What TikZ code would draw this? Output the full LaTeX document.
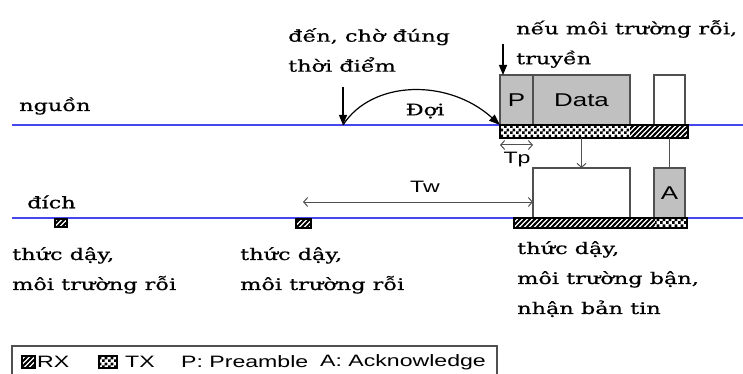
\documentclass[tikz,border=0pt]{standalone}
\usepackage{fontspec}
\setmainfont[FakeStretch=1.4,FakeBold=0.6]{DejaVu Serif}
\newfontfamily\labelsans[FakeStretch=1.4]{Liberation Sans}
\usetikzlibrary{arrows.meta,patterns}

% receive (RX) hatch and transmit (TX) checkerboard
\pgfdeclarepatternformonly{rxhatch}{\pgfqpoint{-1pt}{-1pt}}{\pgfqpoint{6pt}{6pt}}{\pgfqpoint{5pt}{5pt}}{%
  \pgfsetlinewidth{2pt}%
  \pgfpathmoveto{\pgfqpoint{-0.5pt}{-0.5pt}}\pgfpathlineto{\pgfqpoint{5.5pt}{5.5pt}}\pgfusepath{stroke}}
\pgfdeclarepatternformonly{txcheck}{\pgfpointorigin}{\pgfqpoint{6pt}{6pt}}{\pgfqpoint{6pt}{6pt}}{%
  \pgfpathrectangle{\pgfpointorigin}{\pgfqpoint{3pt}{3pt}}%
  \pgfpathrectangle{\pgfqpoint{3pt}{3pt}}{\pgfqpoint{3pt}{3pt}}\pgfusepath{fill}}

\definecolor{boxgray}{RGB}{192,192,192}
\definecolor{boxedge}{RGB}{80,80,80}
\definecolor{medium}{RGB}{70,70,240}

\tikzset{
  base/.style={inner sep=0pt, outer sep=0pt},
  graybox/.style={base, draw=boxedge, fill=boxgray, line width=1.2pt, anchor=north west,
    font=\labelsans\fontsize{18.5}{18.5}\selectfont},
  whitebox/.style={base, draw=boxedge, fill=white, line width=1.2pt, anchor=north west},
  barframe/.style={base, draw=black, line width=1.6pt, anchor=north west},
  rxfill/.style={pattern=rxhatch},
  txfill/.style={pattern=txcheck},
  wakemark/.style={base, draw=black, line width=1.3pt, pattern=rxhatch, anchor=north west},
  channel/.style={draw=medium, line width=1.2pt},
  note/.style={align=left, inner sep=0pt, font=\fontsize{16}{30}\selectfont},
  sanslabel/.style={inner sep=0pt, font=\labelsans\fontsize{16.5}{16.5}\selectfont},
  dropin/.style={draw=black, line width=1.2pt, -{Triangle[length=10pt,width=8pt]}},
  waitcurve/.style={draw=black, line width=1.2pt, -{Triangle[length=11pt,width=8pt]}},
  measure/.style={draw=boxedge, line width=1pt, {Straight Barb[length=4pt,width=9pt]}-{Straight Barb[length=4pt,width=9pt]}},
  feed/.style={draw=boxedge, line width=1pt, -{Straight Barb[length=4pt,width=9pt]}},
  legendicon/.style={base, draw=black, line width=1.3pt, anchor=north west},
}

\begin{document}
\begin{tikzpicture}[x=1pt,y=-1pt]
\useasboundingbox (0,0) rectangle (743,374);

% source and destination channels
\coordinate (srcL) at (12,125);  \coordinate (srcR) at (743,125);
\coordinate (dstL) at (12,218);  \coordinate (dstR) at (743,218);
\draw[channel] (srcL) -- (srcR);
\draw[channel] (dstL) -- (dstR);
\node[note, anchor=west] (src) at (19,106) {nguồn};
\node[note, anchor=west] (dst) at (27,202) {đích};

% sender: arrival, waiting, transmission
\node[note, anchor=west] (arrtext) at (288,50) {đến, chờ đúng\\thời điểm};
\coordinate (arrTop) at (343,87);
\coordinate (arrive) at (343,125);
\draw[dropin] (arrTop) -- (arrive);

\node[graybox, minimum width=33, minimum height=50] (pbox) at (500,75) {P};
\node[graybox, minimum width=97, minimum height=50] (data) at (533,75) {Data};
\node[whitebox, minimum width=31, minimum height=50] (idle) at (654,75) {};

\draw[waitcurve] (arrive) .. controls (372,80) and (448,78) .. (pbox.south west);
\node[note] (wait) at (425,111) {Đợi};

\node[note, anchor=west] (sendtext) at (516,44) {nếu môi trường rỗi,\\truyền};
\coordinate (sendTop) at (503,44);
\draw[dropin] (sendTop) -- (sendTop |- pbox.north);

% sender radio activity
\fill[txfill] (500,125) rectangle (630,138);
\fill[rxfill] (630,125) rectangle (688,138);
\node[barframe, minimum width=188, minimum height=13] (txbar) at (500,125) {};

% preamble duration
\coordinate (tpL) at (500,145);
\draw[measure] (tpL) -- (tpL -| pbox.east);
\node[sanslabel] (tp) at (517,160) {Tp};

% receiver: wake-ups and reception
\node[whitebox, minimum width=97, minimum height=50] (rxbox) at (533,168) {};
\node[graybox, minimum width=31, minimum height=50] (abox) at (654,168) {A};
\draw[feed] (txbar.south -| rxbox.north) -- (rxbox.north);
\draw[draw=boxedge, line width=1.2pt] (txbar.south -| abox.north) -- (abox.north);

\fill[rxfill] (514,218) rectangle (655,228);
\fill[txfill] (655,218) rectangle (687,228);
\node[barframe, minimum width=173, minimum height=10] (rxbar) at (514,218) {};

\node[wakemark, minimum width=12, minimum height=8] (wake1) at (55,219) {};
\node[wakemark, minimum width=15, minimum height=9] (wake2) at (296,219) {};

\coordinate (twL) at (303,202);
\draw[measure] (twL) -- (twL -| rxbox.west);
\node[sanslabel] (tw) at (425,187) {Tw};

\node[note, anchor=north west] (idle1) at (12,247) {thức dậy,\\môi trường rỗi};
\node[note, anchor=north west] (idle2) at (240,247) {thức dậy,\\môi trường rỗi};
\node[note, anchor=north west] (busy) at (517,241) {thức dậy,\\môi trường bận,\\nhận bản tin};

% legend
\draw[draw=boxedge, line width=1.2pt] (12,374) -- (12,346) -- (497,346) -- (497,374);
\node[legendicon, pattern=rxhatch, minimum width=13, minimum height=12] (lrx) at (22,356) {};
\node[sanslabel, anchor=west] (lrxt) at (37,362) {RX};
\node[legendicon, pattern=txcheck, minimum width=18, minimum height=12] (ltx) at (99,356) {};
\node[sanslabel, anchor=west] (ltxt) at (125,362) {TX};
\node[sanslabel, anchor=west] (lp) at (181,362) {P: Preamble};
\node[sanslabel, anchor=west] (la) at (320,362) {A: Acknowledge};
\end{tikzpicture}
\end{document}
